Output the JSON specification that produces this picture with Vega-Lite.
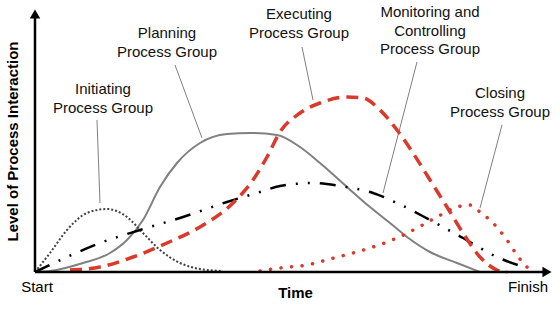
{
  "$schema": "https://vega.github.io/schema/vega-lite/v6.json",
  "width": 520,
  "height": 262,
  "autosize": "none",
  "padding": {"left": 35, "top": 10, "right": 5, "bottom": 39},
  "config": {"view": {"stroke": null}, "font": "Liberation Sans"},
  "datasets": {
    "initiating": [
      {"x": 0, "y": 0}, {"x": 3, "y": 7.6}, {"x": 6.4, "y": 16.8}, {"x": 10.4, "y": 23.6}, {"x": 14.4, "y": 25.2},
      {"x": 18.4, "y": 22}, {"x": 21.6, "y": 15.6}, {"x": 25, "y": 8.8}, {"x": 29, "y": 3.6}, {"x": 33, "y": 1.2}, {"x": 37.6, "y": 0.4}
    ],
    "planning": [
      {"x": 0, "y": 0}, {"x": 3, "y": 0.4}, {"x": 9.6, "y": 3.6}, {"x": 15, "y": 7.6}, {"x": 18.4, "y": 12.8},
      {"x": 21.6, "y": 20.8}, {"x": 25, "y": 34}, {"x": 28.4, "y": 43.6}, {"x": 33, "y": 51.6}, {"x": 38.4, "y": 55.2},
      {"x": 43, "y": 55.6}, {"x": 48.4, "y": 54.8}, {"x": 53, "y": 50}, {"x": 57, "y": 43.6}, {"x": 62.4, "y": 34},
      {"x": 67, "y": 26}, {"x": 71, "y": 19.6}, {"x": 74.4, "y": 14}, {"x": 79, "y": 8}, {"x": 84.4, "y": 3.6}, {"x": 89, "y": 0}
    ],
    "executing": [
      {"x": 7, "y": 0.8}, {"x": 13, "y": 2}, {"x": 19.6, "y": 6}, {"x": 26.4, "y": 11.6}, {"x": 33, "y": 18},
      {"x": 39.6, "y": 27.6}, {"x": 43.6, "y": 36.8}, {"x": 46.4, "y": 46}, {"x": 49, "y": 56}, {"x": 53, "y": 63.6},
      {"x": 57, "y": 67.6}, {"x": 62.4, "y": 70}, {"x": 65.6, "y": 69.6}, {"x": 69, "y": 64.8}, {"x": 72.4, "y": 56.8},
      {"x": 75.6, "y": 47.6}, {"x": 79, "y": 36.8}, {"x": 82.4, "y": 26}, {"x": 85.6, "y": 15.6}, {"x": 89, "y": 6},
      {"x": 92.4, "y": 0.8}, {"x": 94.4, "y": 0}
    ],
    "monitoring": [
      {"x": 0, "y": 0}, {"x": 6.4, "y": 6}, {"x": 13, "y": 11.6}, {"x": 21, "y": 16.8}, {"x": 29.6, "y": 22},
      {"x": 38.4, "y": 28}, {"x": 45, "y": 32}, {"x": 49, "y": 34.4}, {"x": 55.6, "y": 35.6}, {"x": 61, "y": 34.4},
      {"x": 67.6, "y": 31.6}, {"x": 72.4, "y": 27.6}, {"x": 79, "y": 20.8}, {"x": 85.6, "y": 13.6}, {"x": 92.4, "y": 6},
      {"x": 98.4, "y": 1.6}
    ],
    "closing": [
      {"x": 45, "y": 0.4}, {"x": 49, "y": 1.6}, {"x": 54.4, "y": 2.8}, {"x": 59, "y": 5.2}, {"x": 63.6, "y": 7.6},
      {"x": 67.6, "y": 10}, {"x": 72.4, "y": 13.6}, {"x": 76.4, "y": 17.6}, {"x": 80.4, "y": 22}, {"x": 84.4, "y": 26},
      {"x": 87, "y": 26.8}, {"x": 89, "y": 24}, {"x": 91.6, "y": 19.6}, {"x": 94.4, "y": 12.8}, {"x": 96.4, "y": 6.8},
      {"x": 98.4, "y": 2}, {"x": 100, "y": 0.8}
    ],
    "labels": [
      {"text": "Initiating\nProcess Group", "x": 13.6, "y": 76},
      {"text": "Planning\nProcess Group", "x": 26.4, "y": 98.4},
      {"text": "Executing\nProcess Group", "x": 52.8, "y": 106},
      {"text": "Monitoring and\nControlling\nProcess Group", "x": 79, "y": 106.8},
      {"text": "Closing\nProcess Group", "x": 93, "y": 74.4}
    ],
    "leaders": [
      {"x": 12.4, "y": 60.8, "x2": 13, "y2": 27.6},
      {"x": 28, "y": 82.8, "x2": 33.4, "y2": 53.6},
      {"x": 53.4, "y": 90, "x2": 55.6, "y2": 68.8},
      {"x": 76.4, "y": 84, "x2": 69.6, "y2": 31.6},
      {"x": 93.4, "y": 58.8, "x2": 89, "y2": 25.6}
    ],
    "axes": [
      {"x": 0, "y": 0, "x2": 102.5, "y2": 0},
      {"x": 0, "y": 0, "x2": 0, "y2": 103.5}
    ],
    "arrows": [
      {"x": 102.4, "y": 0, "shape": "triangle-right"},
      {"x": 0, "y": 103.2, "shape": "triangle-up"}
    ],
    "ends": [
      {"text": "Start", "x": 0.4, "y": -6},
      {"text": "Finish", "x": 98.6, "y": -6}
    ]
  },
  "encoding": {
    "x": {"field": "x", "type": "quantitative", "scale": {"domain": [0, 104], "nice": false, "zero": false},
      "axis": {"title": "Time", "domain": false, "ticks": false, "labels": false, "grid": false,
        "titleFontSize": 15, "titleFontWeight": "bold", "titleColor": "black", "titlePadding": 13}},
    "y": {"field": "y", "type": "quantitative", "scale": {"domain": [0, 104.8], "nice": false, "zero": false},
      "axis": {"title": "Level of Process Interaction", "domain": false, "ticks": false, "labels": false, "grid": false,
        "titleFontSize": 15, "titleFontWeight": "bold", "titleColor": "black", "titlePadding": 15}}
  },
  "layer": [
    {"data": {"name": "leaders"}, "mark": {"type": "rule", "color": "#808080", "strokeWidth": 1, "clip": false},
      "encoding": {"x2": {"field": "x2"}, "y2": {"field": "y2"}}},
    {"data": {"name": "planning"}, "mark": {"type": "line", "interpolate": "monotone", "color": "#808080", "strokeWidth": 2}},
    {"data": {"name": "initiating"}, "mark": {"type": "line", "interpolate": "monotone", "color": "#404040", "strokeWidth": 2, "strokeDash": [2, 2]}},
    {"data": {"name": "monitoring"}, "mark": {"type": "line", "interpolate": "monotone", "color": "black", "strokeWidth": 2.5, "strokeDash": [16, 10, 2, 10, 2, 10]}},
    {"data": {"name": "executing"}, "mark": {"type": "line", "interpolate": "monotone", "color": "#d93a2b", "strokeWidth": 3.5, "strokeDash": [12, 7]}},
    {"data": {"name": "closing"}, "mark": {"type": "line", "interpolate": "monotone", "color": "#d93a2b", "strokeWidth": 3.5, "strokeDash": [0.1, 10.5], "strokeCap": "round"}},
    {"data": {"name": "axes"}, "mark": {"type": "rule", "color": "black", "strokeWidth": 2.5, "clip": false},
      "encoding": {"x2": {"field": "x2"}, "y2": {"field": "y2"}}},
    {"data": {"name": "arrows"}, "mark": {"type": "point", "filled": true, "color": "black", "opacity": 1, "size": 110, "clip": false},
      "encoding": {"shape": {"field": "shape", "type": "nominal", "scale": null, "legend": null}}},
    {"data": {"name": "labels"}, "mark": {"type": "text", "fontSize": 15, "align": "center", "baseline": "top", "lineHeight": 18.5, "lineBreak": "\n", "color": "#111111", "clip": false},
      "encoding": {"text": {"field": "text"}}},
    {"data": {"name": "ends"}, "mark": {"type": "text", "fontSize": 15, "align": "center", "baseline": "middle", "color": "black", "clip": false},
      "encoding": {"text": {"field": "text"}}}
  ]
}
